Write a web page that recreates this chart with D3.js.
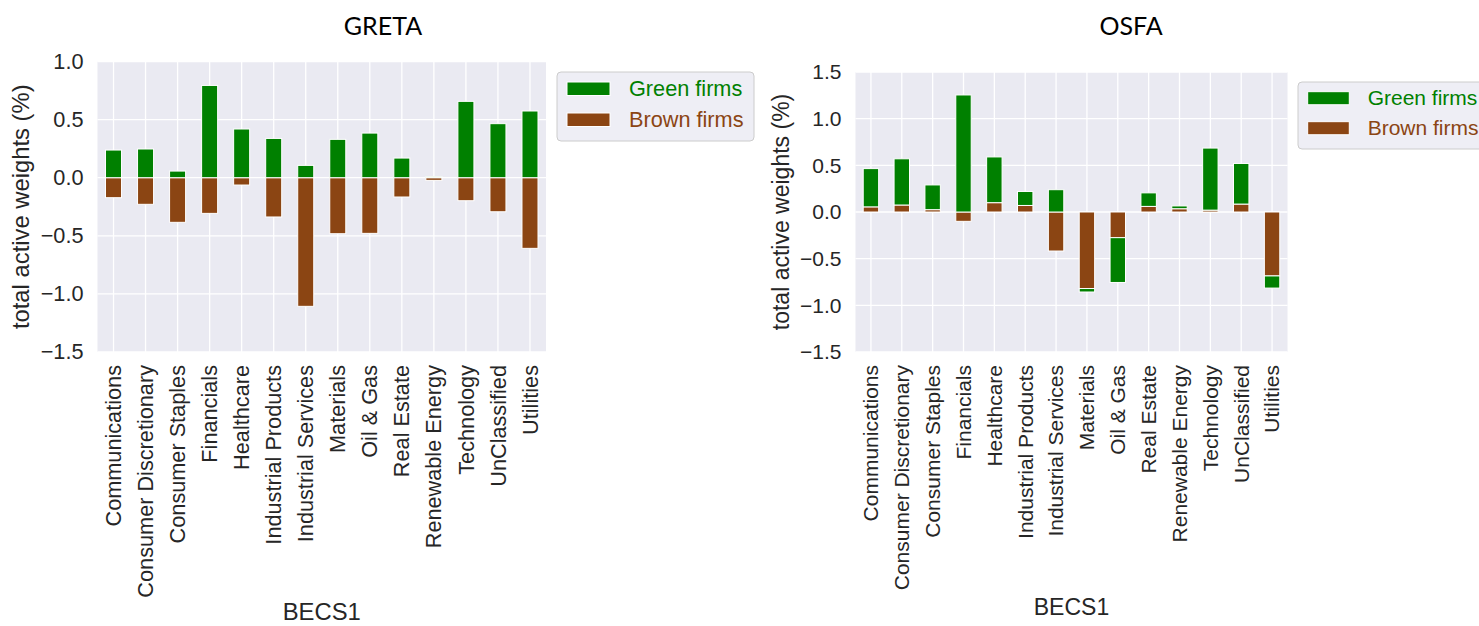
<!DOCTYPE html>
<html>
<head>
<meta charset="utf-8">
<script src="https://cdn.jsdelivr.net/npm/d3@7"></script>
<style>
  html, body { margin: 0; padding: 0; background: #ffffff; }
  svg { display: block; }
</style>
</head>
<body>
<div id="chart"></div>
<script>
// ---------- DATA ----------
const categories = ["Communications", "Consumer Discretionary", "Consumer Staples", "Financials",
  "Healthcare", "Industrial Products", "Industrial Services", "Materials", "Oil & Gas",
  "Real Estate", "Renewable Energy", "Technology", "UnClassified", "Utilities"];

const seriesNames = ["Green firms", "Brown firms"];

const gretaGreen = [0.238, 0.247, 0.057, 0.794, 0.419, 0.338, 0.106, 0.330, 0.384, 0.169, 0.009, 0.657, 0.465, 0.574];
const gretaBrown = [-0.172, -0.229, -0.384, -0.307, -0.063, -0.338, -1.107, -0.482, -0.479, -0.166, -0.023, -0.198, -0.293, -0.608];

const osfaGreen = [0.41, 0.495, 0.265, 1.254, 0.49, 0.15, 0.239, -0.037, -0.48, 0.145, 0.03, 0.665, 0.435, -0.13];
const osfaBrown = [0.055, 0.075, 0.025, -0.10, 0.10, 0.07, -0.418, -0.82, -0.275, 0.06, 0.035, 0.02, 0.085, -0.685];

const gretaTicks = [-1.5, -1.0, -0.5, 0.0, 0.5, 1.0];
const osfaTicks = [-1.5, -1.0, -0.5, 0.0, 0.5, 1.0, 1.5];

const titles = ["GRETA", "OSFA"];
const yLabel = "total active weights (%)";
const xLabel = "BECS1";

// ---------- STYLE ----------
const W = 1479, H = 626;
const colors = { "Green firms": "#008000", "Brown firms": "#8B4513" };
const textColor = "#262626";
const bgColor = "#EAEAF2";
const fontFamily = "'Liberation Sans', Arial, sans-serif";

const svg = d3.select("#chart").append("svg")
  .attr("width", W).attr("height", H)
  .attr("viewBox", `0 0 ${W} ${H}`);
svg.append("rect").attr("width", W).attr("height", H).attr("fill", "#ffffff");

const panels = [
  { title: titles[0], green: gretaGreen, brown: gretaBrown, ticks: gretaTicks, domain: [-1.5, 1.0],
    x0: 97.5, x1: 546, y0: 61.5, y1: 352, fs: 21.7, lfs: 23.8,
    titleX: 383, titleY: 35, ylabX: 29, xlabY: 620,
    legX: 557, legY: 72, legW: 197, legH: 69 },
  { title: titles[1], green: osfaGreen, brown: osfaBrown, ticks: osfaTicks, domain: [-1.5, 1.5],
    x0: 855.5, x1: 1287.5, y0: 72, y1: 352, fs: 21.0, lfs: 23.0,
    titleX: 1131, titleY: 35, ylabX: 789, xlabY: 615,
    legX: 1298, legY: 82, legW: 191, legH: 67 }
];

panels.forEach(p => {
  const g = svg.append("g");
  const x = d3.scaleBand().domain(categories).range([p.x0, p.x1]).paddingInner(0).paddingOuter(0);
  const y = d3.scaleLinear().domain(p.domain).range([p.y1, p.y0]);

  // background
  g.append("rect").attr("x", p.x0).attr("y", p.y0)
    .attr("width", p.x1 - p.x0).attr("height", p.y1 - p.y0).attr("fill", bgColor);

  // grid
  g.append("g").selectAll("line.h").data(p.ticks).join("line")
    .attr("x1", p.x0).attr("x2", p.x1)
    .attr("y1", d => y(d)).attr("y2", d => y(d))
    .attr("stroke", "#ffffff").attr("stroke-width", 1.3);
  g.append("g").selectAll("line.v").data(categories).join("line")
    .attr("x1", d => x(d) + x.bandwidth() / 2).attr("x2", d => x(d) + x.bandwidth() / 2)
    .attr("y1", p.y0).attr("y2", p.y1)
    .attr("stroke", "#ffffff").attr("stroke-width", 1.3);

  // stacked bars (pandas-style: brown first, diverging stacks)
  const rows = categories.map((c, i) => ({ cat: c, "Brown firms": p.brown[i], "Green firms": p.green[i] }));
  const stack = d3.stack().keys(["Brown firms", "Green firms"]).offset(d3.stackOffsetDiverging);
  const layers = stack(rows);
  const bw = x.bandwidth() * 0.5;
  layers.forEach(layer => {
    g.append("g").selectAll("rect").data(layer).join("rect")
      .attr("x", d => x(d.data.cat) + x.bandwidth() / 2 - bw / 2)
      .attr("width", bw)
      .attr("y", d => y(Math.max(d[0], d[1])))
      .attr("height", d => Math.abs(y(d[0]) - y(d[1])))
      .attr("fill", colors[layer.key])
      .attr("stroke", "#ffffff").attr("stroke-width", 1);
  });

  // y axis tick labels
  const yAxis = d3.axisLeft(y).tickValues(p.ticks).tickSize(0).tickPadding(14)
    .tickFormat(d => d3.format(".1f")(d).replace("-", "\u2212"));
  const ya = g.append("g").attr("transform", `translate(${p.x0},0)`).call(yAxis);
  ya.select(".domain").remove();
  ya.selectAll("text").attr("font-family", fontFamily).attr("font-size", p.fs)
    .attr("fill", textColor);

  // x axis tick labels (rotated)
  const xAxis = d3.axisBottom(x).tickSize(0).tickPadding(0);
  const xa = g.append("g").attr("transform", `translate(0,${p.y1})`).call(xAxis);
  xa.select(".domain").remove();
  xa.selectAll("text")
    .attr("font-family", fontFamily).attr("font-size", p.fs).attr("fill", textColor)
    .attr("text-anchor", "end")
    .attr("transform", "rotate(-90)")
    .attr("x", -13).attr("y", 0).attr("dy", "0.35em");

  // titles & labels
  g.append("text").attr("x", p.titleX).attr("y", p.titleY)
    .attr("text-anchor", "middle").attr("font-family", "Lato, 'Open Sans', sans-serif")
    .attr("font-size", 25).attr("fill", "#000000").text(p.title);

  g.append("text")
    .attr("transform", `translate(${p.ylabX},${(p.y0 + p.y1) / 2}) rotate(-90)`)
    .attr("text-anchor", "middle").attr("font-family", fontFamily)
    .attr("font-size", p.lfs).attr("fill", textColor).text(yLabel);

  g.append("text").attr("x", (p.x0 + p.x1) / 2).attr("y", p.xlabY)
    .attr("text-anchor", "middle").attr("font-family", fontFamily)
    .attr("font-size", p.lfs).attr("fill", textColor).text(xLabel);

  // legend
  const lg = g.append("g").attr("transform", `translate(${p.legX},${p.legY})`);
  lg.append("rect").attr("width", p.legW).attr("height", p.legH).attr("rx", 4)
    .attr("fill", "#EEEEF5").attr("stroke", "#CCCCCC").attr("stroke-width", 1);
  const sc = p.fs / 21.7;
  seriesNames.forEach((name, i) => {
    const cy = (16.5 + i * 31) * sc;
    lg.append("rect").attr("x", 10 * sc).attr("y", cy - 6.5 * sc)
      .attr("width", 43 * sc).attr("height", 13.5 * sc)
      .attr("fill", colors[name]).attr("stroke", "#ffffff").attr("stroke-width", 1);
    lg.append("text").attr("x", 72 * sc).attr("y", cy + 7.5 * sc)
      .attr("font-family", fontFamily).attr("font-size", p.fs)
      .attr("fill", colors[name]).text(name);
  });
});
</script>
</body>
</html>
